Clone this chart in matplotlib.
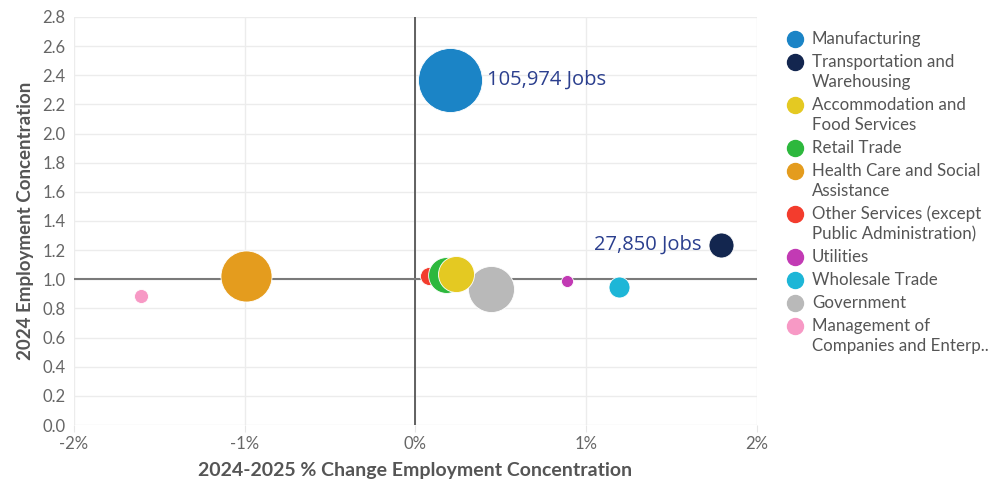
import matplotlib
matplotlib.use("Agg")
import matplotlib.pyplot as plt
from matplotlib.lines import Line2D
import numpy as np

# ---------------- data ----------------
industries = [
    "Manufacturing",
    "Transportation and Warehousing",
    "Accommodation and Food Services",
    "Retail Trade",
    "Health Care and Social Assistance",
    "Other Services (except Public Administration)",
    "Utilities",
    "Wholesale Trade",
    "Government",
    "Management of Companies and Enterprises",
]
legend_labels = [
    "Manufacturing",
    "Transportation and\nWarehousing",
    "Accommodation and\nFood Services",
    "Retail Trade",
    "Health Care and Social\nAssistance",
    "Other Services (except\nPublic Administration)",
    "Utilities",
    "Wholesale Trade",
    "Government",
    "Management of\nCompanies and Enterp..",
]
pct_change = [0.20, 1.79, 0.24, 0.18, -0.99, 0.08, 0.89, 1.19, 0.44, -1.61]
concentration = [2.37, 1.235, 1.035, 1.03, 1.02, 1.02, 0.985, 0.95, 0.93, 0.885]
jobs = [105974, 27850, 49900, 49500, 80000, 13800, 1800, 19800, 70000, 5800]
labeled = [0, 1]  # which bubbles get a "Jobs" label
colors = ["#1b84c6", "#13264f", "#e4c922", "#2db83d", "#e49c1e",
          "#f33c2d", "#c23ab4", "#1db6d7", "#b9b9b9", "#f799c5"]
xticks = [-2, -1, 0, 1, 2]
yticks = [0.0, 0.2, 0.4, 0.6, 0.8, 1.0, 1.2, 1.4, 1.6, 1.8, 2.0, 2.2, 2.4, 2.6, 2.8]

# ---------------- figure ----------------
DPI = 100
fig = plt.figure(figsize=(9.95, 4.83), dpi=DPI)
W, H = 995, 483
ax = fig.add_axes([74 / W, 1 - 425 / H, (757 - 74) / W, (425 - 17) / H])

ax.set_xlim(-2, 2)
ax.set_ylim(0, 2.8)
for s in ax.spines.values():
    s.set_visible(False)

ax.set_xticks(xticks)
ax.set_xticklabels([f"{t}%" for t in xticks])
ax.set_yticks(yticks)
ax.set_yticklabels([f"{t:.1f}" for t in yticks])
ax.grid(True, color="#ececec", linewidth=1.0, zorder=0)
ax.set_axisbelow(True)
ax.tick_params(axis="y", length=0, pad=6, labelsize=12, labelcolor="#666666")
ax.tick_params(axis="x", length=5, color="#e6e6e6", pad=3, labelsize=12,
               labelcolor="#666666")
for lab in ax.get_xticklabels() + ax.get_yticklabels():
    lab.set_fontfamily("Lato")

ax.axvline(0, color="#555555", linewidth=1.3, zorder=1)
ax.axhline(1.0, color="#7a7a7a", linewidth=1.5, zorder=1)

ax.set_xlabel("2024-2025 % Change Employment Concentration", fontfamily="Lato",
              fontweight="bold", fontsize=14, color="#555555", labelpad=7)
ax.set_ylabel("2024 Employment Concentration", fontfamily="Lato",
              fontweight="bold", fontsize=13.5, color="#555555", labelpad=6)

# bubble radii (pixels) scale linearly with jobs
rmin, rmax = 6.0, 32.0
jmin, jmax = min(jobs), max(jobs)
radii = [rmin + (j - jmin) / (jmax - jmin) * (rmax - rmin) for j in jobs]

n = len(industries)
for i in reversed(range(n)):
    d_pt = 2 * radii[i] * 72 / DPI
    ax.scatter([pct_change[i]], [concentration[i]], s=d_pt ** 2, color=colors[i],
               edgecolors="white", linewidths=0.6, zorder=3 + (n - i), clip_on=False)

for i in labeled:
    off_px = radii[i] + 5
    if pct_change[i] > 1.0:
        dx, ha = -(off_px + 2), "right"
    else:
        dx, ha = off_px, "left"
    ax.annotate(f"{jobs[i]:,} Jobs", (pct_change[i], concentration[i]),
                xytext=(dx * 72 / DPI, 0), textcoords="offset points",
                ha=ha, va="center", fontsize=14.5, color="#2b3f8e",
                fontfamily="Open Sans", zorder=20)

# legend (drawn manually for exact spacing)
leg_x_marker, leg_x_text = 795, 812
y = 39
for lab, c in zip(legend_labels, colors):
    fig.add_artist(Line2D([leg_x_marker / W], [1 - y / H], transform=fig.transFigure,
                          marker="o", markersize=11.5, linestyle="none",
                          markerfacecolor=c, markeredgecolor=c))
    lines = lab.split("\n")
    for k, line in enumerate(lines):
        fig.text(leg_x_text / W, 1 - (y + 20 * k) / H, line, fontfamily="Lato",
                 fontsize=12.2, color="#555555", ha="left", va="center")
    y += 23 + 20 * (len(lines) - 1)

fig.savefig("out.png", dpi=DPI)
